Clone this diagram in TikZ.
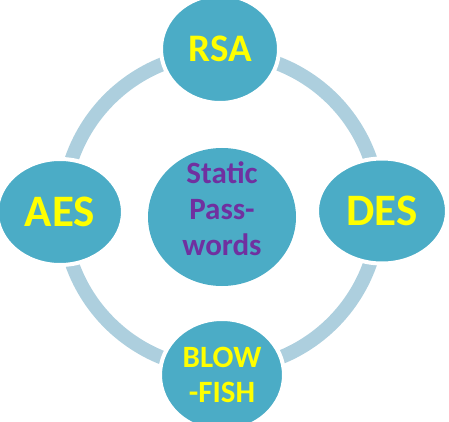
\documentclass[tikz,border=0pt]{standalone}
\usepackage{fontspec}
\setmainfont{Carlito}
\definecolor{ringblue}{HTML}{ADCFDE}
\definecolor{aqua}{HTML}{4BACC6}
\definecolor{ylw}{HTML}{FFFF00}
\definecolor{purp}{HTML}{7030A0}
\usetikzlibrary{shapes.geometric}
\tikzset{
  sat/.style={ellipse, fill=aqua, draw=white, line width=4pt, inner sep=0pt, text=ylw, align=center},
  hub/.style={ellipse, fill=aqua, inner sep=0pt},
  hubtext/.style={text=purp, align=center, font=\bfseries\fontsize{31}{36}\selectfont},
}
\begin{document}
\begin{tikzpicture}[x=1pt,y=-1pt]
\useasboundingbox (0,0) rectangle (449,422);
\draw[ringblue, line width=14pt] (221,211) circle[radius=158];
\node[hub, minimum width=148pt, minimum height=138pt] (hub) at (222,217) {};
\node[hubtext] (hubtxt) at (222,209) {Static\\Pass-\\words};
\node[sat, minimum width=118pt, minimum height=108pt, font=\bfseries\fontsize{39}{44}\selectfont] (rsa) at (220,49) {RSA};
\node[sat, minimum width=126pt, minimum height=106pt, font=\bfseries\fontsize{45}{50}\selectfont] (aes) at (60,212) {AES};
\node[sat, minimum width=130pt, minimum height=105pt, font=\bfseries\fontsize{45}{50}\selectfont] (des) at (382,211) {DES};
\node[sat, minimum width=124pt, minimum height=112pt, font=\bfseries\fontsize{31}{35}\selectfont] (bf) at (222,375) {BLOW\\-FISH};
\end{tikzpicture}
\end{document}
